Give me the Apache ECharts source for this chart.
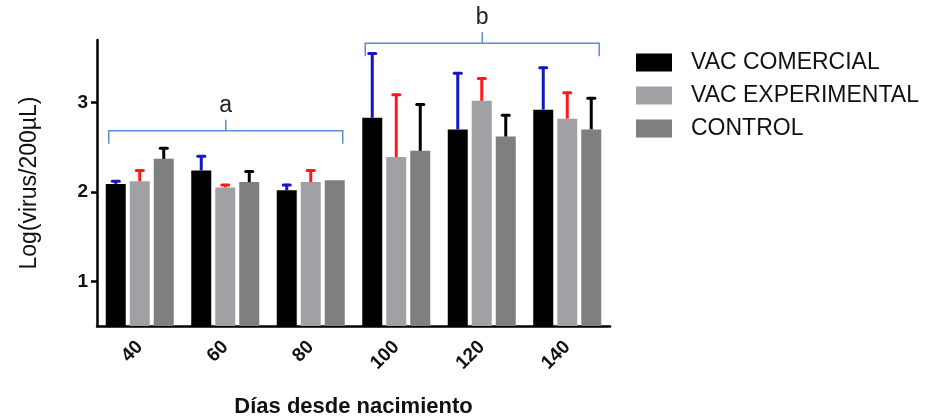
<!DOCTYPE html>
<html>
<head>
<meta charset="utf-8">
<script src="https://cdn.jsdelivr.net/npm/echarts@6/dist/echarts.min.js"></script>
<style>
  html, body { margin: 0; padding: 0; background: #fff; }
  #main { width: 934px; height: 416px; }
</style>
</head>
<body>
<div id="main"></div>
<script>
// datos
var dias = ['40', '60', '80', '100', '120', '140'];
var vacComercial = [2.09, 2.24, 2.02, 2.83, 2.70, 2.92];
var errComercial = [0.04, 0.17, 0.07, 0.73, 0.64, 0.48];
var vacExperimental = [2.12, 2.05, 2.11, 2.39, 3.02, 2.82];
var errExperimental = [0.13, 0.04, 0.14, 0.71, 0.26, 0.30];
var control = [2.37, 2.11, 2.13, 2.46, 2.62, 2.70];
var errControl = [0.13, 0.13, 0, 0.53, 0.25, 0.36];
var yTicks = [1, 2, 3];

// llaves a / b
var llaveDesde = [0, 3];
var llaveHasta = [2, 5];
var llaveNivel = [2.685, 3.665];
var llaveTexto = ['a', 'b'];

var myChart = echarts.init(document.getElementById('main'));

var BAR_W = 20;
var PASO = 24; // ancho de barra + separacion

function errorSeries(nombre, valores, errores, offset, color) {
    var data = [];
    for (var i = 0; i < valores.length; i++) {
        data.push([i, valores[i], valores[i] + errores[i]]);
    }
    return {
        type: 'custom',
        name: nombre + '_err',
        data: data,
        z: 3,
        silent: true,
        encode: { x: 0, y: [1, 2] },
        renderItem: function (params, api) {
            var base = api.coord([api.value(0), api.value(1)]);
            var top = api.coord([api.value(0), api.value(2)]);
            var x = base[0] + offset;
            if (top[1] >= base[1] - 0.5) return;
            return {
                type: 'group',
                children: [
                    {
                        type: 'line',
                        shape: { x1: x, y1: base[1], x2: x, y2: top[1] },
                        style: { stroke: color, lineWidth: 3 }
                    },
                    {
                        type: 'line',
                        shape: { x1: x - 3.5, y1: top[1] + 1, x2: x + 3.5, y2: top[1] + 1 },
                        style: { stroke: color, lineWidth: 3, lineCap: 'round' }
                    }
                ]
            };
        }
    };
}

var llaves = [];
for (var k = 0; k < llaveDesde.length; k++) {
    llaves.push([llaveDesde[k], llaveHasta[k], llaveNivel[k], llaveTexto[k]]);
}

option = {
    animation: false,
    backgroundColor: '#fff',
    grid: {
        left: 97,
        top: 40,
        right: 324,
        bottom: 90,
        outerBoundsMode: 'none'
    },
    legend: {
        orient: 'vertical',
        left: 636,
        top: 51,
        padding: 0,
        itemWidth: 36,
        itemHeight: 18,
        itemGap: 10,
        icon: 'rect',
        data: ['VAC COMERCIAL', 'VAC EXPERIMENTAL', 'CONTROL'],
        textStyle: {
            fontFamily: 'Liberation Sans',
            fontSize: 23,
            color: '#111',
            padding: [0, 0, 0, 14]
        }
    },
    xAxis: {
        type: 'category',
        data: dias,
        name: 'Días desde nacimiento',
        nameLocation: 'middle',
        nameGap: 70,
        nameTextStyle: {
            fontFamily: 'Liberation Sans',
            fontSize: 22,
            fontWeight: 'bold',
            color: '#111'
        },
        axisLine: { lineStyle: { color: '#000', width: 2.5 } },
        axisTick: { alignWithLabel: true, length: 8, lineStyle: { color: '#000', width: 2.5 } },
        axisLabel: {
            rotate: 45,
            margin: 18,
            fontFamily: 'Liberation Sans',
            fontSize: 19,
            fontWeight: 'bold',
            color: '#111'
        }
    },
    yAxis: {
        type: 'value',
        min: 0.5,
        max: 3.7,
        name: 'Log(virus/200µL)',
        nameLocation: 'middle',
        nameGap: 56,
        nameTextStyle: {
            fontFamily: 'Liberation Sans',
            fontSize: 23,
            color: '#111'
        },
        splitLine: { show: false },
        axisLine: { show: true, lineStyle: { color: '#000', width: 2.5 } },
        axisTick: { show: true, length: 6, customValues: yTicks, lineStyle: { color: '#000', width: 2.5 } },
        axisLabel: {
            customValues: yTicks,
            margin: 9,
            fontFamily: 'Liberation Sans',
            fontSize: 19,
            fontWeight: 'bold',
            color: '#111'
        }
    },
    series: [
        {
            name: 'VAC COMERCIAL',
            type: 'bar',
            barWidth: BAR_W,
            barGap: '20%',
            data: vacComercial,
            itemStyle: { color: '#000000' }
        },
        {
            name: 'VAC EXPERIMENTAL',
            type: 'bar',
            barWidth: BAR_W,
            barGap: '20%',
            data: vacExperimental,
            itemStyle: { color: '#a1a1a5' }
        },
        {
            name: 'CONTROL',
            type: 'bar',
            barWidth: BAR_W,
            barGap: '20%',
            data: control,
            itemStyle: { color: '#7f7f7f' }
        },
        errorSeries('VAC COMERCIAL', vacComercial, errComercial, -PASO, '#1414c8'),
        errorSeries('VAC EXPERIMENTAL', vacExperimental, errExperimental, 0, '#ff1a1a'),
        errorSeries('CONTROL', control, errControl, PASO, '#000000'),
        {
            type: 'custom',
            name: 'llaves',
            data: llaves,
            silent: true,
            clip: false,
            z: 4,
            encode: { x: [0, 1], y: 2 },
            renderItem: function (params, api) {
                var p0 = api.coord([api.value(0), api.value(2)]);
                var p1 = api.coord([api.value(1), api.value(2)]);
                var x0 = p0[0] - 31;
                var x1 = p1[0] + 32;
                var y = p0[1];
                var xm = (x0 + x1) / 2;
                var azul = '#5b8fd0';
                return {
                    type: 'group',
                    children: [
                        {
                            type: 'polyline',
                            shape: { points: [[x0, y + 13], [x0, y], [x1, y], [x1, y + 13]] },
                            style: { stroke: azul, lineWidth: 1.5, fill: null }
                        },
                        {
                            type: 'line',
                            shape: { x1: xm, y1: y, x2: xm, y2: y - 11 },
                            style: { stroke: azul, lineWidth: 1.5 }
                        },
                        {
                            type: 'text',
                            style: {
                                text: api.value(3),
                                x: xm,
                                y: y - 25,
                                align: 'center',
                                verticalAlign: 'middle',
                                fontFamily: 'Liberation Sans',
                                fontSize: 23,
                                fill: '#222'
                            }
                        }
                    ]
                };
            }
        }
    ]
};

myChart.setOption(option);
</script>
</body>
</html>
